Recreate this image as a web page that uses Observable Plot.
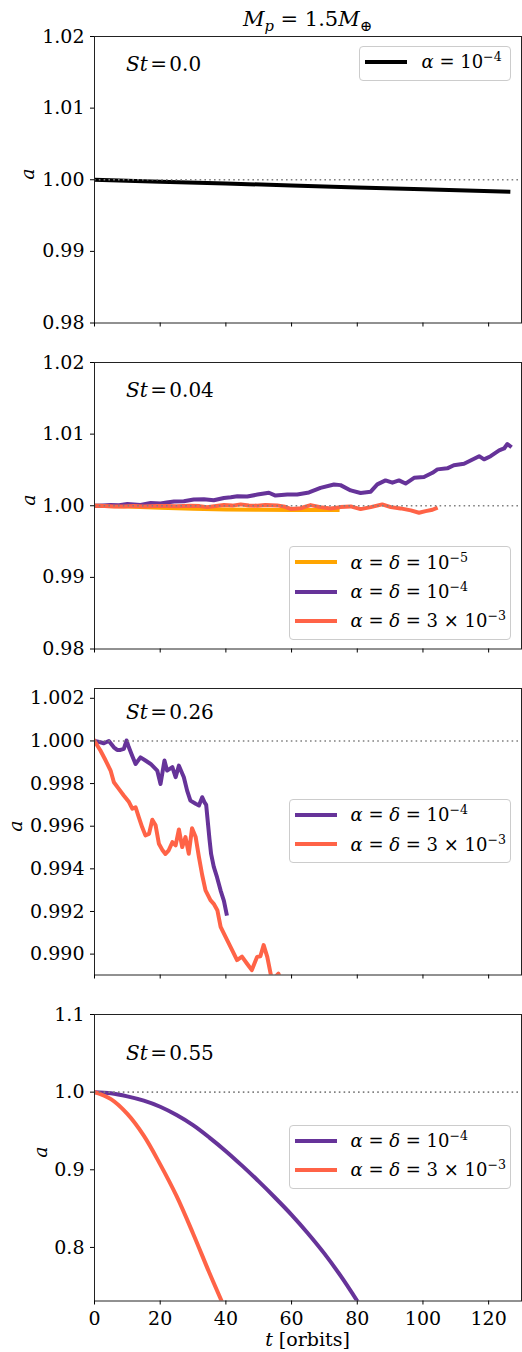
<!DOCTYPE html>
<html><head><meta charset="utf-8">
<script src="https://cdn.jsdelivr.net/npm/d3@7"></script>
<script src="https://cdn.jsdelivr.net/npm/@observablehq/plot@0.6"></script>
<style>
body{margin:0;background:#fff;}
#root{position:relative;width:522px;height:1352px;font-family:"DejaVu Serif",serif;color:#000;overflow:hidden;}
.ov{position:absolute;white-space:nowrap;line-height:0;}
.ov sup{font-size:70%;position:relative;top:-0.55em;vertical-align:baseline;line-height:0;}
.ov sub{font-size:70%;position:relative;top:0.3em;vertical-align:baseline;line-height:0;}
.ov .eq{margin:0 0.12em;}
.legend{position:absolute;background:rgba(255,255,255,0.8);border:1px solid #cccccc;border-radius:4px;box-sizing:border-box;}
.sw{position:absolute;height:4px;}
</style></head><body><div id="root"></div>
<script>
// ---------------- data ----------------
const xTicks = [0, 20, 40, 60, 80, 100, 120];

// St = 0.0, alpha = 1e-4
const st0_t = [0, 20, 40, 60, 80, 100, 126];
const st0_a = [1.0000, 0.99973, 0.99947, 0.99920, 0.99893, 0.99866, 0.99832];

// St = 0.04
const st004_o_t = [0, 10, 20, 30, 40, 50, 60, 70, 74];
const st004_o_a = [1.0, 0.99988, 0.99972, 0.99957, 0.99948, 0.99943, 0.99942, 0.99940, 0.99940];
const st004_p_t = [0, 2.5, 4.9, 7.5, 10, 12, 14, 17.1, 20.1, 22, 24.2, 27.2, 30.2, 33.3, 36.3, 39.4, 41.5, 43.5, 46.5, 49.6, 53.1, 55.1, 58.7, 61.7, 65.3, 68.8, 72.9, 74.9, 78.0, 81.0, 84.1, 86.1, 88.6, 90.7, 92.7, 94.7, 97.3, 100.3, 102.9, 104.4, 107.4, 109.4, 112.5, 114.5, 117.1, 118.6, 120.6, 123.2, 124.7, 125.7, 126.5];
const st004_p_a = [1.0000, 1.00005, 1.00012, 1.00008, 1.00026, 1.00018, 1.00012, 1.00040, 1.00033, 1.00045, 1.00058, 1.00064, 1.00088, 1.00092, 1.00076, 1.00108, 1.00118, 1.00133, 1.00128, 1.00156, 1.00182, 1.00142, 1.00156, 1.00158, 1.00186, 1.00250, 1.00296, 1.00288, 1.00214, 1.00178, 1.00196, 1.00298, 1.00354, 1.00322, 1.00354, 1.00310, 1.00390, 1.00402, 1.00460, 1.00508, 1.00522, 1.00566, 1.00586, 1.00632, 1.00692, 1.00648, 1.00692, 1.00772, 1.00800, 1.00862, 1.00834];
const st004_r_t = [0, 3, 6, 8.9, 12, 15, 19.1, 22, 25, 29.2, 32, 34.3, 37, 39.4, 42, 44.5, 47, 49.6, 52, 55.6, 58, 59.7, 62.7, 65.8, 68.8, 71.9, 74.9, 78, 81, 84.1, 87.6, 90.2, 93.2, 96.3, 98.8, 100.8, 102.9, 103.9];
const st004_r_a = [1.0, 0.99995, 0.99990, 0.99991, 0.99996, 0.99990, 0.99995, 0.99998, 0.99992, 1.0, 0.99995, 0.99981, 0.99996, 1.00009, 1.00002, 1.00019, 1.00005, 1.0, 1.00012, 1.00005, 0.99985, 0.99955, 0.99965, 1.00009, 0.99981, 0.99963, 0.99981, 0.99991, 0.99953, 0.99981, 1.00019, 0.99981, 0.99963, 0.99935, 0.99902, 0.99925, 0.99944, 0.99963];

// St = 0.26
const st026_p_t = [0, 1.5, 2.85, 4.37, 5.89, 6.9, 7.92, 8.93, 9.75, 10.46, 11.47, 12.5, 14.0, 15.5, 17.1, 19.1, 20.1, 21.3, 22.1, 23.7, 24.7, 25.7, 27.2, 28.2, 29.2, 30.8, 31.8, 32.8, 33.5, 34.0, 34.5, 35.0, 35.5, 36.3, 37.3, 38.4, 39.4, 40.2];
const st026_p_a = [1.0, 0.99995, 0.99989, 1.0, 0.99970, 0.99958, 0.99958, 0.99963, 1.00002, 0.99970, 0.99931, 0.99892, 0.99923, 0.99908, 0.99892, 0.99861, 0.99798, 0.99908, 0.99861, 0.99877, 0.99830, 0.99884, 0.99830, 0.99767, 0.99720, 0.99705, 0.99697, 0.99736, 0.99712, 0.99700, 0.99620, 0.99540, 0.99470, 0.99410, 0.99361, 0.99298, 0.99250, 0.99190];
const st026_r_t = [0, 1.8, 3.4, 4.9, 5.9, 7.4, 8.9, 10.5, 11.5, 12.5, 13.5, 14.5, 15.5, 16.6, 17.6, 18.6, 19.6, 20.6, 21.6, 22.6, 23.7, 24.7, 25.7, 26.7, 27.7, 28.7, 29.7, 30.8, 31.8, 32.8, 33.8, 35.3, 36.3, 37.4, 38.4, 39.9, 41.9, 43.4, 44.9, 46.4, 47.9, 49.5, 50.5, 51.5, 52.6, 53.6, 54.3, 55.2, 56.0, 56.8];
const st026_r_a = [1.0, 0.99955, 0.99908, 0.99861, 0.99806, 0.99775, 0.99744, 0.99713, 0.99682, 0.99689, 0.99642, 0.99596, 0.99557, 0.99564, 0.99630, 0.99604, 0.99518, 0.99490, 0.99470, 0.99487, 0.99525, 0.99510, 0.99585, 0.99502, 0.99549, 0.99471, 0.99590, 0.99549, 0.99455, 0.99370, 0.99299, 0.99253, 0.99236, 0.99206, 0.99128, 0.99081, 0.99019, 0.98972, 0.98988, 0.98956, 0.98925, 0.98987, 0.98990, 0.99042, 0.98987, 0.98910, 0.98860, 0.98895, 0.98908, 0.98880];

// St = 0.55
const st055_p_t = [0, 5, 10, 15, 20, 25, 30, 35, 40, 45, 50, 55, 60, 65, 70, 75, 80];
const st055_p_a = [1.0, 0.9985, 0.9945, 0.9890, 0.9812, 0.9705, 0.9575, 0.9415, 0.9240, 0.9050, 0.8850, 0.8640, 0.8420, 0.8180, 0.7920, 0.7630, 0.7310];
const st055_r_t = [0, 5, 10, 15, 20, 25, 30, 35, 38.7];
const st055_r_a = [1.0, 0.991, 0.972, 0.944, 0.907, 0.866, 0.818, 0.767, 0.731];

const ORANGE = "#ffa500", PURPLE = "#663399", TOMATO = "#ff6347";

// ---------------- drawing ----------------
const root = document.getElementById("root");
const FS = 18;     // legend text
const TFS = 19;    // tick / axis label text
const rows = (t, a) => t.map((v, i) => ({t: v, a: a[i]}));

function panel({top, height, mt, mb, yDomain, yTicks, yFmt, series, bottom, labelDx, curve}) {
  const marks = [];
  for (const s of series) {
    marks.push(Plot.line(rows(s.t, s.a), {x: "t", y: "a", stroke: s.color, strokeWidth: 4, strokeLinejoin: "round", strokeLinecap: "square", clip: true, curve: curve || "linear"}));
  }
  marks.push(Plot.ruleY([1], {stroke: "#808080", strokeWidth: 1.6, strokeDasharray: "1.6,3.2"}));
  marks.push(Plot.frame({stroke: "#222", strokeWidth: 1}));
  marks.push(Plot.axisX({ticks: xTicks, tickSize: 4, tickPadding: 6, tickFormat: bottom ? (d => String(d)) : (() => ""), label: null}));
  marks.push(Plot.axisY({ticks: yTicks, tickSize: 4, tickPadding: 6, tickFormat: yFmt, label: null}));
  marks.push(Plot.text(["a"], {frameAnchor: "left", dx: labelDx, rotate: -90, fontStyle: "italic", fontSize: TFS}));
  const chart = Plot.plot({
    width: 522, height, marginLeft: 94, marginRight: 1, marginTop: mt, marginBottom: mb,
    style: {fontFamily: '"DejaVu Serif", serif', fontSize: TFS + "px", background: "transparent", overflow: "visible", color: "#000"},
    x: {domain: [0, 130]},
    y: {domain: yDomain},
    marks
  });
  chart.style.position = "absolute";
  chart.style.left = "0px";
  chart.style.top = top + "px";
  root.appendChild(chart);
}

function txt(html, x, baseline, fs, anchor = "start") {
  const d = document.createElement("div");
  d.className = "ov";
  d.style.fontSize = fs + "px";
  d.style.left = x + "px";
  d.style.top = (baseline - 0.346 * fs) + "px";
  if (anchor === "middle") d.style.transform = "translateX(-50%)";
  d.innerHTML = html;
  root.appendChild(d);
}

function legend(box, items) {
  const L = document.createElement("div");
  L.className = "legend";
  L.style.left = box.x + "px"; L.style.top = box.y + "px";
  L.style.width = box.w + "px"; L.style.height = box.h + "px";
  root.appendChild(L);
  items.forEach((it, i) => {
    const cy = box.y0 + i * box.dy;
    const s = document.createElement("div");
    s.className = "sw";
    s.style.left = box.sx + "px"; s.style.width = box.sw + "px";
    s.style.top = (cy - 2) + "px"; s.style.background = it.color;
    root.appendChild(s);
    txt(it.label, box.tx, cy + 6.5, FS);
  });
}

const fmt2 = d3.format(".2f"), fmt3 = d3.format(".3f"), fmt1 = d3.format(".1f");

panel({top: 0, height: 330, mt: 36, mb: 7.5, yDomain: [0.98, 1.02], yTicks: [0.98, 0.99, 1.0, 1.01, 1.02], yFmt: fmt2,
  series: [{t: st0_t, a: st0_a, color: "#000"}], bottom: false, labelDx: -67});
panel({top: 330, height: 330, mt: 32, mb: 11.5, yDomain: [0.98, 1.02], yTicks: [0.98, 0.99, 1.0, 1.01, 1.02], yFmt: fmt2,
  series: [{t: st004_o_t, a: st004_o_a, color: ORANGE}, {t: st004_p_t, a: st004_p_a, color: PURPLE}, {t: st004_r_t, a: st004_r_a, color: TOMATO}], bottom: false, labelDx: -66});
panel({top: 660, height: 330, mt: 28, mb: 15.5, yDomain: [0.98902, 1.00246], yTicks: [0.990, 0.992, 0.994, 0.996, 0.998, 1.000, 1.002], yFmt: fmt3,
  series: [{t: st026_p_t, a: st026_p_a, color: PURPLE}, {t: st026_r_t, a: st026_r_a, color: TOMATO}], bottom: false, labelDx: -79});
panel({top: 990, height: 362, mt: 24, mb: 51.5, yDomain: [0.731, 1.1], yTicks: [0.8, 0.9, 1.0, 1.1], yFmt: fmt1,
  series: [{t: st055_p_t, a: st055_p_a, color: PURPLE}, {t: st055_r_t, a: st055_r_a, color: TOMATO}], bottom: true, labelDx: -54, curve: "catmull-rom"});

// title, annotations, x label
txt('<i>M</i><sub><i>p</i></sub> = 1.5<i>M</i><sub>⊕</sub>', 307.5, 26.7, 21, "middle");
const SFS = 20;
txt('<i>St</i><span class="eq">=</span>0.0', 126, 70.5, SFS);
txt('<i>St</i><span class="eq">=</span>0.04', 126, 397, SFS);
txt('<i>St</i><span class="eq">=</span>0.26', 126, 719, SFS);
txt('<i>St</i><span class="eq">=</span>0.55', 126, 1060, SFS);
txt('<i>t</i> [orbits]', 307.5, 1346, TFS, "middle");

const lab4 = '<i>α</i> = <i>δ</i> = 10<sup>−4</sup>';
const lab5 = '<i>α</i> = <i>δ</i> = 10<sup>−5</sup>';
const lab3 = '<i>α</i> = <i>δ</i> = 3 × 10<sup>−3</sup>';

legend({x: 359, y: 45.5, w: 152, h: 35, y0: 61.7, dy: 29.3, sx: 365, sw: 42, tx: 421.5}, [{color: "#000", label: '<i>α</i> = 10<sup>−4</sup>'}]);
legend({x: 288.5, y: 546, w: 222.5, h: 93.5, y0: 562.3, dy: 29.2, sx: 295, sw: 42, tx: 350.5},
  [{color: ORANGE, label: lab5}, {color: PURPLE, label: lab4}, {color: TOMATO, label: lab3}]);
legend({x: 288.5, y: 799.3, w: 222.5, h: 63.5, y0: 815, dy: 29.3, sx: 295, sw: 42, tx: 350.5},
  [{color: PURPLE, label: lab4}, {color: TOMATO, label: lab3}]);
legend({x: 288.5, y: 1125, w: 222.5, h: 64, y0: 1140.7, dy: 29.3, sx: 295, sw: 42, tx: 350.5},
  [{color: PURPLE, label: lab4}, {color: TOMATO, label: lab3}]);
</script></body></html>
